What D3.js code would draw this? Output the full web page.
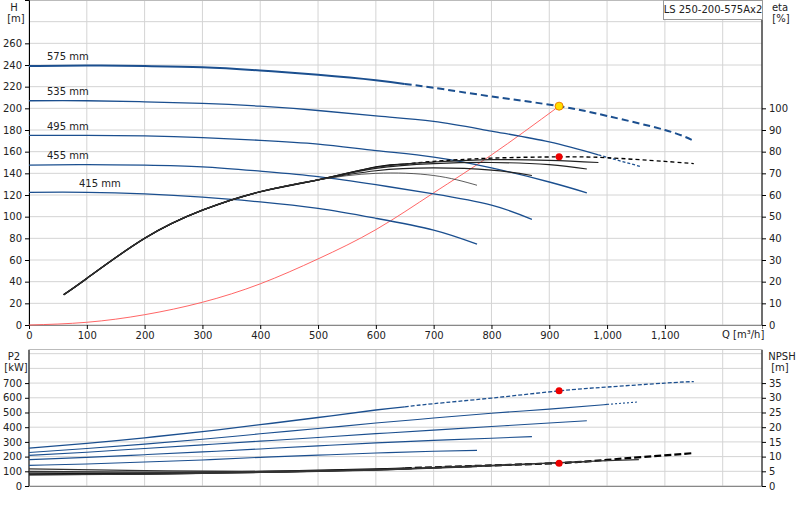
<!DOCTYPE html><html><head><meta charset="utf-8">
<script src="https://cdn.jsdelivr.net/npm/d3@7"></script>
<style>body{margin:0;background:#fff}text{font-family:"DejaVu Sans",sans-serif;font-size:10px;fill:#222}</style></head><body>
<svg id="c" width="800" height="520"></svg>
<script>
const qTicks=[0,100,200,300,400,500,600,700,800,900,1000,1100];
const hTicks=[0,20,40,60,80,100,120,140,160,180,200,220,240,260];
const etaTicks=[0,10,20,30,40,50,60,70,80,90,100];
const p2Ticks=[0,100,200,300,400,500,600,700];
const npshTicks=[0,5,10,15,20,25,30,35];
const diameters=["575 mm","535 mm","495 mm","455 mm","415 mm"];
const head=[
 [[0,239],[100,239.5],[200,239],[300,238],[400,235],[500,231],[600,226],[700,219],[800,211],[917,202],[1000,193],[1100,180],[1150,170]],
 [[0,207],[100,207],[200,206],[300,204.6],[400,202],[500,198],[600,193],[700,188],[800,179],[900,169],[985,157],[1060,146]],
 [[0,175],[100,175],[200,174.5],[300,173],[400,170.5],[500,167],[600,161],[700,155],[800,145],[900,132],[965,122]],
 [[0,147.5],[100,148],[200,147.5],[300,146],[400,142],[500,137],[600,129.5],[700,121],[800,110.6],[870,97.5]],
 [[0,122.5],[100,122.5],[200,121],[300,118],[400,113.6],[500,107.6],[600,98.5],[700,87.6],[775,74.6]]];
const etaRise=[[60,14],[100,21.5],[200,40],[300,53],[400,61.5],[500,67]];
const eta=[
 [[600,73],[700,75.5],[800,77],[917,77.6],[1000,77.2],[1100,75.5],[1150,74.5]],
 [[600,72.8],[700,75.2],[800,76.3],[900,76],[985,75]],
 [[600,72.3],[700,74.5],[800,75],[900,74],[965,72]],
 [[600,71.2],[700,72.5],[800,71.5],[870,69]],
 [[600,70],[700,69],[775,64.5]]];
const system=[[0,0],[100,2.5],[200,9.5],[300,21],[400,38],[500,61],[600,88],[700,122],[800,157],[917,202]];
const power=[
 [[0,258],[100,290],[200,328],[300,370],[400,417],[500,466],[600,517],[700,560],[800,598],[917,647],[1000,673],[1100,700],[1150,710]],
 [[0,228],[100,255],[200,285],[300,318],[400,355],[500,391],[600,428],[700,462],[800,495],[900,523],[1000,555],[1055,572]],
 [[0,208],[100,230],[200,255],[300,280],[400,305],[500,330],[600,356],[700,380],[800,405],[900,428],[965,444]],
 [[0,179],[100,195],[200,213],[300,232],[400,252],[500,273],[600,293],[700,310],[800,325],[870,336]],
 [[0,140],[100,150],[200,163],[300,177],[400,195],[500,210],[600,224],[700,236],[775,242]]];
const npsh=[
 [[0,4.0],[200,4.2],[400,4.8],[600,5.7],[800,7.0],[917,7.8],[1000,8.9],[1150,11.2]],
 [[0,5.8],[200,5.2],[400,5.0],[600,5.6],[800,7.0],[1000,8.6],[1055,9.0]],
 [[0,5.0],[200,4.7],[400,4.9],[600,5.6],[800,6.9],[965,8.3]],
 [[0,4.5],[200,4.4],[400,4.8],[600,5.5],[870,7.4]],
 [[0,3.8],[200,4.0],[400,4.6],[600,5.4],[775,6.6]]];
const duty={q:917,h:202,eta:77.6,p2:647,npsh:7.7};

const svg=d3.select("#c");
const blue="#1b4f8f";
const x=d3.scaleLinear().domain([0,1268]).range([29,762]);
const yH=d3.scaleLinear().domain([0,300]).range([325,0]);
const yE=d3.scaleLinear().domain([0,150]).range([325,0]);
const yP=d3.scaleLinear().domain([0,925]).range([486,350]);
const yN=d3.scaleLinear().domain([0,46.25]).range([486,350]);
const grid="#d4d4d4";
function vgrid(y0,y1){svg.append("g").selectAll("line").data(d3.range(100,1300,100)).join("line")
 .attr("x1",d=>x(d)).attr("x2",d=>x(d)).attr("y1",y0).attr("y2",y1).attr("stroke",grid);}
vgrid(0,325);vgrid(350,486);
svg.append("g").selectAll("line").data(d3.range(20,300,20)).join("line").attr("x1",29).attr("x2",762)
 .attr("y1",d=>yH(d)).attr("y2",d=>yH(d)).attr("stroke",grid);
svg.append("g").selectAll("line").data(d3.range(100,925,100)).join("line").attr("x1",29).attr("x2",762)
 .attr("y1",d=>yP(d)).attr("y2",d=>yP(d)).attr("stroke",grid);
svg.append("rect").attr("x",29).attr("y",0.5).attr("width",733).attr("height",324.5).attr("fill","none").attr("stroke","#bbb");
svg.append("rect").attr("x",29).attr("y",349.5).attr("width",733).attr("height",136.5).attr("fill","none").attr("stroke","#bbb");
const fmt=d3.format(",");
svg.append("g").attr("transform","translate(0,325)").call(d3.axisBottom(x).tickValues(qTicks).tickFormat(fmt).tickSize(4)).call(g=>g.select(".domain").attr("stroke","#888"));
svg.append("g").attr("transform","translate(29,0)").call(d3.axisLeft(yH).tickValues(hTicks).tickSize(4));
svg.append("g").attr("transform","translate(762,0)").call(d3.axisRight(yE).tickValues(etaTicks).tickSize(4)).call(g=>g.select(".domain").attr("d","M0,0V325"));
svg.append("g").attr("transform","translate(0,486)").call(d3.axisBottom(x).tickValues([]).tickSize(0)).call(g=>g.select(".domain").attr("stroke","#888"));
svg.append("g").attr("transform","translate(29,0)").call(d3.axisLeft(yP).tickValues(p2Ticks).tickSize(4)).call(g=>g.select(".domain").attr("d","M0,350V486"));
svg.append("g").attr("transform","translate(762,0)").call(d3.axisRight(yN).tickValues(npshTicks).tickSize(4)).call(g=>g.select(".domain").attr("d","M0,350V486"));
svg.selectAll(".tick text").style("font-size","10px").style("font-family","DejaVu Sans");
const t=(s,xx,yy,a)=>svg.append("text").attr("x",xx).attr("y",yy).attr("text-anchor",a||"start").text(s);
t("H",14,11,"middle");t("[m]",16,22,"middle");
t("eta",780,11,"middle");t("[%]",781,22,"middle");
t("Q [m³/h]",722,338);
t("P2",14,360,"middle");t("[kW]",16,371,"middle");
t("NPSH",782,360,"middle");t("[m]",780,371,"middle");
svg.append("rect").attr("x",663.5).attr("y",0.5).attr("width",99).attr("height",19).attr("fill","#fff").attr("stroke","#999");
t("LS 250-200-575Ax2",713,13,"middle");
const labPos=[[47,60],[47,95],[47,130],[47,159],[79,187]];
diameters.forEach((d,i)=>t(d,labPos[i][0],labPos[i][1]));

const ln=(yS)=>d3.line().x(d=>x(d[0])).y(d=>yS(d[1])).curve(d3.curveNatural);
function split(data,q,yS,col,w,dash){
 const a=data.filter(d=>d[0]<=q), b=data.filter(d=>d[0]>=q);
 const i=data.findIndex(d=>d[0]>q);
 if(i>0){const p=data[i-1],n=data[i],f=(q-p[0])/(n[0]-p[0]);const m=[q,p[1]+f*(n[1]-p[1])];if(a[a.length-1][0]!==q)a.push(m);if(b[0][0]!==q)b.unshift(m);}
 svg.append("path").attr("d",ln(yS)(a)).attr("fill","none").attr("stroke",col).attr("stroke-width",w);
 if(b.length>1)svg.append("path").attr("d",ln(yS)(b)).attr("fill","none").attr("stroke",col).attr("stroke-width",w).attr("stroke-dasharray",dash);
}
svg.append("path").attr("d",ln(yH)(system)).attr("fill","none").attr("stroke","#ff5555").attr("stroke-width",0.9);
split(head[0],650,yH,blue,2,"7,4");
split(head[1],985,yH,blue,1.3,"3,2");
[2,3,4].forEach(i=>split(head[i],2000,yH,blue,1.3,""));
eta.forEach((e,i)=>{const d=etaRise.concat(e);
 if(i===0)split(d,650,yE,"#000",1.4,"4,3"); else split(d,2000,yE,i===4?"#333":"#222",i===4?0.8:1.2,"");});
split(power[0],650,yP,blue,1.3,"4,2");
split(power[1],1000,yP,blue,1.1,"2,2");
[2,3,4].forEach(i=>split(power[i],2000,yP,blue,1.1,""));
npsh.forEach((n,i)=>{ if(i===0)split(n,650,yN,"#000",2.2,"7,3"); else split(n,2000,yN,"#333",1.2,"");});
svg.append("circle").attr("cx",x(duty.q)).attr("cy",yH(duty.h)).attr("r",4).attr("fill","#ffe000").attr("stroke","#f08000");
svg.append("circle").attr("cx",x(duty.q)).attr("cy",yE(duty.eta)).attr("r",3.5).attr("fill","#e00");
svg.append("circle").attr("cx",x(duty.q)).attr("cy",yP(duty.p2)).attr("r",3.5).attr("fill","#e00");
svg.append("circle").attr("cx",x(duty.q)).attr("cy",yN(duty.npsh)).attr("r",3.5).attr("fill","#e00");
</script></body></html>
